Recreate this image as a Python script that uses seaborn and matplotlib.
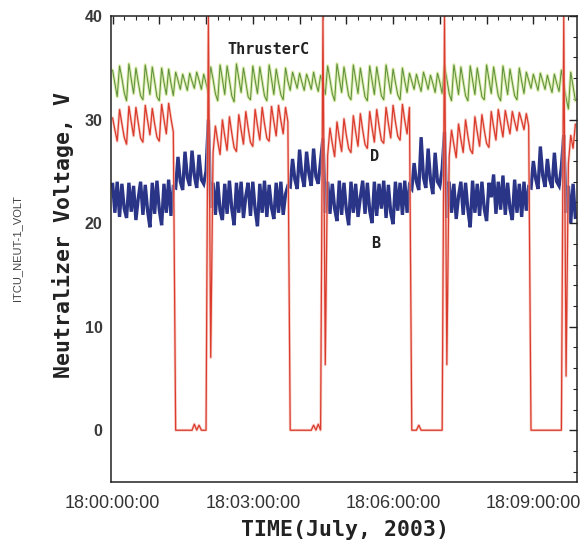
import matplotlib
matplotlib.use("Agg")
import numpy as np
import pandas as pd
import matplotlib.pyplot as plt
import seaborn as sns
from matplotlib.ticker import MultipleLocator, FuncFormatter

# Telemetry sampled every 3 s, starting 18:00:00 (July 2003)
SAMPLE_SECONDS = 3

# Thruster C neutralizer voltage (V)
thruster_c = [
    34.8, 33.5, 32.2, 35.2, 34.0, 32.6, 31.8, 35.4, 33.9, 32.5,
    35.0, 33.6, 32.3, 31.9, 35.3, 33.8, 32.4, 35.1, 33.7, 32.2,
    31.8, 35.0, 33.6, 32.4, 34.9, 33.5, 32.3, 34.6, 33.8, 32.9,
    34.4, 33.6, 32.8, 34.5, 33.7, 33.0, 34.6, 33.8, 32.9, 34.4,
    33.5, 32.6, 35.1, 33.9, 32.5, 31.8, 35.3, 33.9, 32.4, 35.2,
    33.8, 32.3, 31.7, 35.4, 34.0, 32.6, 35.0, 33.6, 32.2, 31.9,
    35.2, 33.8, 32.5, 35.1, 33.7, 32.3, 31.8, 35.3, 33.9, 32.4,
    34.9, 33.6, 32.4, 31.9, 35.0, 33.7, 32.8, 34.6, 33.8, 33.0,
    34.5, 33.6, 32.8, 34.4, 33.7, 32.9, 34.6, 33.5, 32.7, 34.3,
    33.4, 32.4, 35.2, 33.9, 32.5, 31.8, 35.4, 34.0, 32.6, 35.1,
    33.7, 32.3, 31.9, 35.3, 33.9, 32.5, 35.0, 33.6, 32.2, 31.8,
    35.2, 33.8, 32.4, 35.1, 33.7, 32.3, 31.9, 35.3, 33.9, 32.5,
    34.9, 33.6, 32.4, 31.9, 35.0, 33.7, 32.6, 34.5, 33.7, 32.9,
    34.4, 33.5, 32.7, 34.6, 33.8, 32.9, 34.3, 33.5, 32.6, 34.5,
    33.6, 32.5, 35.2, 33.9, 32.5, 31.8, 35.3, 33.9, 32.4, 35.1,
    33.7, 32.3, 31.8, 35.2, 33.8, 32.4, 35.0, 33.6, 32.2, 31.9,
    35.3, 33.9, 32.5, 35.1, 33.7, 32.3, 31.8, 35.2, 33.8, 32.4,
    34.9, 33.6, 32.3, 31.9, 35.0, 33.7, 32.5, 34.6, 33.8, 33.0,
    34.4, 33.6, 32.8, 34.5, 33.7, 32.9, 34.3, 33.4, 32.6, 34.4,
    33.5, 32.7, 34.8, 33.4, 32.1, 31.0, 34.6, 33.2, 31.8,
]

# Thruster D neutralizer voltage (V): cycles off to 0 V and restarts
thruster_d = [
    30.2, 29.0, 27.9, 31.0, 29.6, 28.3, 27.6, 31.3, 29.8, 28.4,
    31.2, 29.7, 28.2, 27.8, 31.4, 29.9, 28.5, 31.1, 29.6, 28.3,
    27.9, 31.5, 30.0, 28.6, 31.6, 30.1, 28.8,
    0, 0, 0, 0, 0, 0, 0, 0, 0.6, 0, 0.5, 0, 0, 0,
    40.0, 7.0,
    26.8, 29.4, 27.9, 26.6, 30.0, 28.4, 27.0,
    30.3, 28.7, 27.3, 26.9, 30.5, 29.0, 27.6, 30.8, 29.2, 27.8,
    27.4, 31.0, 29.4, 28.0, 31.2, 29.6, 28.2, 27.9, 31.3, 29.8,
    28.4, 31.4, 29.9, 28.6, 31.2, 29.8,
    0, 0, 0, 0, 0, 0, 0, 0, 0, 0, 0.5, 0, 0.6, 0,
    40.0, 6.3,
    26.5, 29.2, 27.7, 26.4, 29.8, 28.2, 26.9, 30.1,
    28.5, 27.2, 26.8, 30.4, 28.8, 27.4, 30.6, 29.0, 27.6, 27.2,
    30.8, 29.2, 27.8, 31.0, 29.4, 28.0, 27.7, 31.2, 29.6, 28.2,
    31.4, 29.8, 28.4, 28.0, 31.5, 29.9, 28.6, 31.2,
    0, 0, 0, 0.5, 0, 0, 0, 0, 0, 0, 0, 0, 0, 0,
    40.0, 6.3,
    26.4, 29.0, 27.6, 26.3, 29.6, 28.1,
    26.8, 30.0, 28.4, 27.1, 26.7, 30.3, 28.8, 27.4, 30.5, 29.0,
    27.7, 27.3, 30.8, 29.3, 28.0, 31.0, 29.6, 28.3, 30.9, 29.7,
    28.6, 30.8, 29.8, 28.9, 30.7, 29.9, 29.0, 30.6, 29.4,
    0, 0, 0, 0, 0, 0, 0, 0, 0, 0, 0, 0, 0, 0,
    40.0, 5.2,
    25.8, 28.5, 27.2, 29.6,
]

# Thruster B neutralizer voltage (V)
thruster_b = [
    23.9, 21.0, 24.0, 20.6, 23.8, 21.4, 20.5, 23.9, 21.1, 23.6,
    20.3, 22.4, 24.0, 20.8, 23.7, 21.2, 19.6, 23.9, 20.9, 24.1,
    21.3, 19.8, 23.8, 21.0, 24.2, 20.7, 23.5,
    23.4, 26.4, 24.0, 23.2, 26.9, 24.4, 23.6, 27.0, 24.6, 23.4, 26.6, 24.2, 23.8, 25.0,
    30.0, 21.5,
    23.9, 20.8, 24.0, 21.2, 20.3, 23.8, 20.9,
    24.1, 21.4, 19.8, 23.9, 21.0, 24.0, 20.5, 22.6, 23.9, 20.7,
    24.0, 21.3, 19.7, 23.8, 21.0, 24.1, 20.6, 23.7, 21.5, 20.4,
    23.9, 21.0, 24.0, 20.8, 22.8, 23.6,
    23.5, 26.2, 24.2, 23.3, 27.1, 24.6, 23.5, 26.9, 24.8, 23.6, 27.2, 24.5, 23.8, 26.0,
    28.2, 21.0,
    24.0, 20.9, 23.8, 21.4, 20.2, 24.1, 20.8, 23.9,
    21.3, 19.8, 24.0, 21.0, 23.8, 20.6, 22.5, 24.1, 20.9, 23.9,
    21.2, 20.0, 24.0, 20.7, 23.8, 21.4, 24.1, 20.5, 23.7, 21.0,
    19.9, 24.0, 21.2, 23.9, 20.8, 24.1, 21.0, 23.6,
    23.3, 25.8, 24.0, 23.2, 28.3, 24.4, 23.4, 27.2, 24.2, 22.8, 26.8, 24.0, 23.6, 25.2,
    28.8, 20.5,
    24.0, 21.0, 23.8, 20.4, 22.6, 24.0,
    20.8, 23.9, 21.3, 19.6, 24.1, 21.0, 23.8, 20.7, 24.0, 21.4,
    20.2, 23.9, 22.5, 24.7, 20.9, 24.0, 21.3, 24.6, 20.8, 23.9,
    21.4, 20.3, 24.2, 21.0, 23.8, 20.6, 24.0, 21.2, 23.5,
    23.4, 26.0, 24.3, 23.3, 27.4, 24.6, 23.5, 26.2, 24.2, 23.4, 26.8, 24.0, 23.6, 25.4,
    28.5, 21.0,
    23.6, 20.0, 23.8, 20.4,
]

series_labels = ["ThrusterC", "D", "B"]


def frame(values):
    return pd.DataFrame({
        "seconds": np.arange(len(values)) * SAMPLE_SECONDS,
        "volts": values,
    })


sns.set_style("white")
plt.rcParams["font.family"] = ["DejaVu Sans"]

fig = plt.figure(figsize=(5.85, 5.47), dpi=100)
ax = fig.add_axes([0.1897, 0.1188, 0.7966, 0.8519])

df_b, df_c, df_d = frame(thruster_b), frame(thruster_c), frame(thruster_d)

sharp = dict(solid_joinstyle="miter", solid_capstyle="butt")

# B: thick navy trace
sns.lineplot(data=df_b, x="seconds", y="volts", ax=ax, color="#2a3587",
             lw=2.4, estimator=None, sort=False, **sharp)
# C: green trace with a pale yellow-green halo
sns.lineplot(data=df_c, x="seconds", y="volts", ax=ax, color="#d7eaa0",
             lw=2.2, alpha=0.9, estimator=None, sort=False)
sns.lineplot(data=df_c, x="seconds", y="volts", ax=ax, color="#5f9040",
             lw=0.75, estimator=None, sort=False, **sharp)
# D: red trace with a pale halo
sns.lineplot(data=df_d, x="seconds", y="volts", ax=ax, color="#f5b8ae",
             lw=2.0, alpha=0.7, estimator=None, sort=False)
sns.lineplot(data=df_d, x="seconds", y="volts", ax=ax, color="#db3b2c",
             lw=0.9, estimator=None, sort=False, **sharp)

ax.set_xlim(-2, 596)
ax.set_ylim(-5, 40)
ax.set_xlabel("")
ax.set_ylabel("")

# time axis: tick each minute, label every third minute
ax.xaxis.set_major_locator(MultipleLocator(60))
ax.xaxis.set_minor_locator(MultipleLocator(15))


def time_label(v, pos):
    s = int(round(v))
    if s % 180 != 0:
        return ""
    return f"18:{s // 60:02d}:{s % 60:02d}:00"


ax.xaxis.set_major_formatter(FuncFormatter(time_label))
ax.yaxis.set_major_locator(MultipleLocator(10))
ax.yaxis.set_minor_locator(MultipleLocator(2))

ax.tick_params(which="both", direction="in", top=True, right=True,
               color="#222222")
ax.tick_params(which="major", length=6, width=1.0)
ax.tick_params(which="minor", length=3, width=0.8)
ax.tick_params(axis="x", which="major", pad=9)
ax.tick_params(axis="y", which="major", pad=6)

for lab in ax.get_xticklabels():
    lab.set_fontfamily("Liberation Sans")
    lab.set_fontsize(13)
    lab.set_color("#333333")
for lab in ax.get_yticklabels():
    lab.set_fontfamily("Liberation Sans")
    lab.set_fontweight("bold")
    lab.set_fontsize(11.5)
    lab.set_color("#3a3a3a")

for sp in ax.spines.values():
    sp.set_visible(True)
    sp.set_color("#222222")
    sp.set_linewidth(1.1)

mono = dict(family="DejaVu Sans Mono", weight="bold", color="#222222")
ax.text(200, 36.8, series_labels[0], ha="center", va="center", fontsize=11, **mono)
ax.text(336, 26.4, series_labels[1], ha="center", va="center", fontsize=11, **mono)
ax.text(338, 18.0, series_labels[2], ha="center", va="center", fontsize=11, **mono)

fig.text(63 / 585, 1 - 235.5 / 547, "Neutralizer Voltage, V", rotation=90,
         ha="center", va="center", fontsize=15.5, **mono)
fig.text(345 / 585, 1 - 530 / 547, "TIME(July, 2003)",
         ha="center", va="center", fontsize=15.5, **mono)
fig.text(17.5 / 585, 1 - 248 / 547, "ITCU_NEUT-1_VOLT", rotation=90,
         ha="center", va="center", fontsize=8, family="Liberation Sans",
         color="#444444")

fig.savefig("out.png", dpi=100, facecolor="white")
